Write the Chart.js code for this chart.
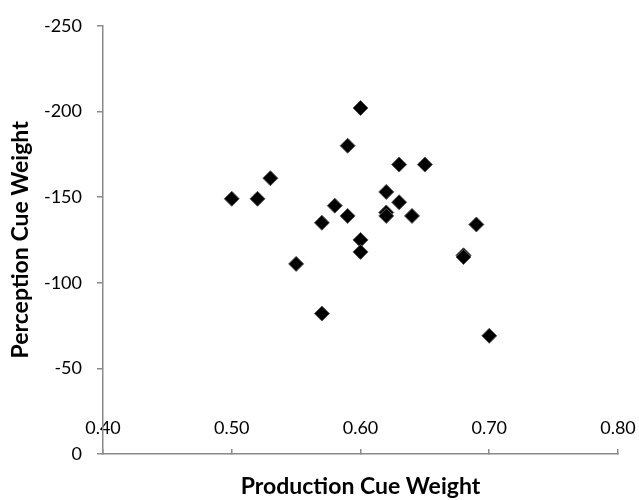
<!DOCTYPE html>
<html>
<head>
<meta charset="utf-8">
<script src="https://cdn.jsdelivr.net/npm/chart.js@4"></script>
<style>
  body { margin: 0; background: #fff; }
  #wrap { width: 639px; height: 500px; position: relative; }
</style>
</head>
<body>
<div id="wrap"><canvas id="cueChart"></canvas></div>
<script>
// production cue weight (x) and perception cue weight (y), one entry per point
const production = [0.50, 0.52, 0.53, 0.55, 0.57, 0.57, 0.58, 0.59, 0.59, 0.60, 0.60, 0.60,
    0.62, 0.62, 0.62, 0.63, 0.63, 0.64, 0.65, 0.68, 0.68, 0.69, 0.70];
const perception = [-149, -149, -161, -111, -135, -82, -145, -180, -139, -202, -125, -118,
    -153, -141, -139, -169, -147, -139, -169, -116, -115, -134, -69];

const xTicks = [0.40, 0.50, 0.60, 0.70, 0.80];
const yTicks = [-250, -200, -150, -100, -50, 0];

const ctx = document.getElementById('cueChart');
const axisGrey = '#8a8a8a';
const tickFont = { family: 'Lato', size: 18 };
const titleFont = { family: 'Lato', size: 23, weight: 'bold' };

new Chart(ctx, {
    type: 'scatter',
    data: {
        datasets: [{
            data: production.map((x, i) => ({ x: x, y: perception[i] })),
            pointStyle: 'rectRot',
            pointRadius: 7.5,
            pointHoverRadius: 7.5,
            backgroundColor: '#000',
            borderColor: '#555',
            borderWidth: 1
        }]
    },
    options: {
        responsive: true,
        maintainAspectRatio: false,
        animation: false,
        layout: { padding: { left: 0, right: 21, top: 24, bottom: 0 } },
        plugins: {
            legend: { display: false },
            tooltip: { enabled: false }
        },
        scales: {
            x: {
                type: 'linear',
                min: xTicks[0],
                max: xTicks[xTicks.length - 1],
                afterBuildTicks: (scale) => { scale.ticks = xTicks.map(v => ({ value: v })); },
                afterFit: (scale) => {
                    scale.height = 46;
                    scale.paddingLeft = 0;
                    scale.paddingRight = 0;
                },
                border: { color: axisGrey, width: 1.5 },
                grid: { drawOnChartArea: false, color: axisGrey, lineWidth: 1.5, tickLength: -5 },
                ticks: {
                    // excel put these labels above the axis line
                    mirror: true,
                    padding: 15,
                    maxRotation: 0,
                    autoSkip: false,
                    color: '#000',
                    font: tickFont,
                    callback: (v) => Number(v).toFixed(2)
                },
                title: {
                    display: true,
                    text: 'Production Cue Weight',
                    color: '#000',
                    font: titleFont,
                    padding: { top: 0, bottom: 0 }
                }
            },
            y: {
                type: 'linear',
                reverse: true,
                min: yTicks[0],
                max: yTicks[yTicks.length - 1],
                afterBuildTicks: (scale) => { scale.ticks = yTicks.map(v => ({ value: v })); },
                afterFit: (scale) => { scale.width = 103; },
                border: { color: axisGrey, width: 1.5 },
                grid: { drawOnChartArea: false, color: axisGrey, lineWidth: 1.5, tickLength: 6 },
                ticks: {
                    padding: 15,
                    color: '#000',
                    font: tickFont,
                    callback: (v) => String(v)
                },
                title: {
                    display: true,
                    text: 'Perception Cue Weight',
                    color: '#000',
                    font: titleFont,
                    padding: { top: 7, bottom: 0 }
                }
            }
        }
    }
});
</script>
</body>
</html>
